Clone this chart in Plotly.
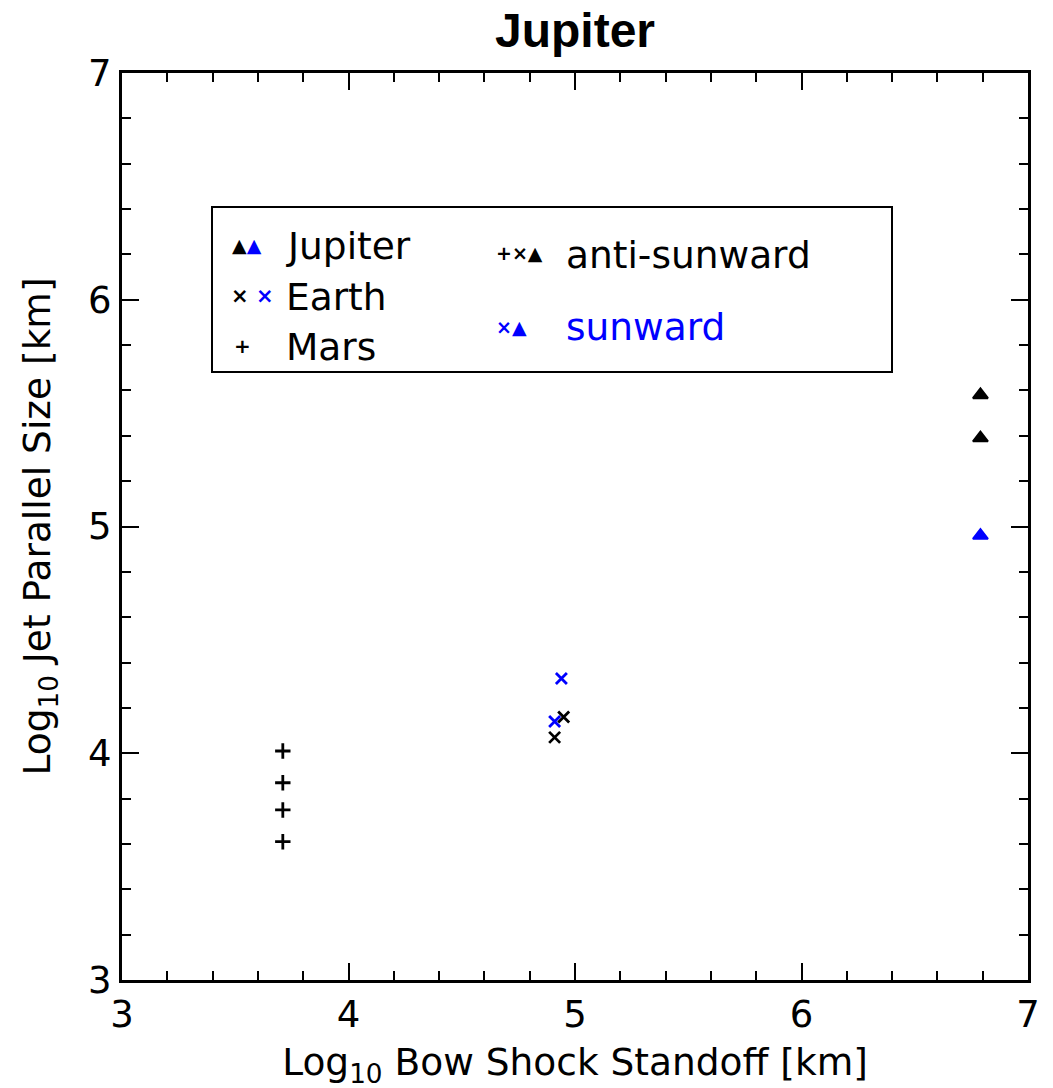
import plotly.graph_objects as go

# ---- data (log10 values) ----
mars_x = [3.71, 3.71, 3.71, 3.71]
mars_y = [4.01, 3.87, 3.75, 3.61]

earth_anti_x = [4.91, 4.95]
earth_anti_y = [4.07, 4.16]
earth_sun_x = [4.94, 4.91]
earth_sun_y = [4.33, 4.14]

jup_anti_x = [6.79, 6.79]
jup_anti_y = [5.58, 5.39]
jup_sun_x = [6.79]
jup_sun_y = [4.96]

x_ticks = [3, 4, 5, 6, 7]
y_ticks = [3, 4, 5, 6, 7]

BLUE = "#0000ff"
BLACK = "#000000"
FONT = "DejaVu Sans"

fig = go.Figure()

fig.add_trace(go.Scatter(x=mars_x, y=mars_y, mode="markers",
                         marker=dict(symbol="cross-thin", size=11,
                                     line=dict(width=2.8, color=BLACK), color=BLACK)))
fig.add_trace(go.Scatter(x=earth_anti_x, y=earth_anti_y, mode="markers",
                         marker=dict(symbol="x-thin", size=11,
                                     line=dict(width=2.8, color=BLACK), color=BLACK)))
fig.add_trace(go.Scatter(x=earth_sun_x, y=earth_sun_y, mode="markers",
                         marker=dict(symbol="x-thin", size=11,
                                     line=dict(width=2.8, color=BLUE), color=BLUE)))
fig.add_trace(go.Scatter(x=jup_anti_x, y=jup_anti_y, mode="markers",
                         marker=dict(symbol="triangle-up", size=13, color=BLACK,
                                     line=dict(width=2, color=BLACK))))
fig.add_trace(go.Scatter(x=jup_sun_x, y=jup_sun_y, mode="markers",
                         marker=dict(symbol="triangle-up", size=13, color=BLUE,
                                     line=dict(width=2, color=BLUE))))

axis_common = dict(
    range=[3, 7], showgrid=False, zeroline=False,
    showline=True, linecolor="black", linewidth=3, mirror="ticks",
    ticks="inside", ticklen=17, tickwidth=2, tickcolor="black",
    minor=dict(dtick=0.2, ticks="inside", ticklen=9, tickwidth=1.5, tickcolor="black"),
    tickfont=dict(family=FONT, size=37, color="black"),
)

fig.update_xaxes(**axis_common, tickvals=x_ticks, ticktext=[str(v) for v in x_ticks],
                 title=dict(text="Log<sub>10</sub> Bow Shock Standoff [km]",
                            font=dict(family=FONT, size=37.5, color="black"), standoff=14))
fig.update_yaxes(**axis_common, tickvals=y_ticks, ticktext=[str(v) for v in y_ticks],
                 title=dict(text="Log<sub>10</sub> Jet Parallel Size [km]",
                            font=dict(family=FONT, size=37.5, color="black"), standoff=26))

# the page adds an 8px body margin; positions below are in page pixels
OFF = 8
W, H = 1053, 1088
L, R, T, B = 122 - OFF, 1028 - OFF, 73 - OFF, 980 - OFF

def px(x):
    return (x - OFF - L) / (R - L)

def py(y):
    return (B - (y - OFF)) / (B - T)

annotations = []

def txt(x, y, text, color=BLACK, size=37.5, xanchor="left"):
    annotations.append(dict(x=px(x), y=py(y), xref="paper", yref="paper",
                            text=text, showarrow=False, xanchor=xanchor, yanchor="middle",
                            font=dict(family=FONT, size=size, color=color)))

# legend texts
txt(284, 246, "Jupiter")
txt(284, 297, "Earth")
txt(284, 347, "Mars")
txt(564, 255, "anti-sunward")
txt(564, 327, "sunward", color=BLUE)

# legend marker glyphs
tri = "\u25B2"
cross = "\u00D7"
txt(230, 245, f"<span style='color:{BLACK}'>{tri}</span><span style='color:{BLUE}'>{tri}</span>", size=19)
txt(229, 296, f"<b><span style='color:{BLACK}'>{cross}</span> <span style='color:{BLUE}'>{cross}</span></b>", size=21)
txt(232, 346, "<b>+</b>", size=20)
txt(494, 253, f"<b>+{cross}</b>{tri}", size=19)
txt(494, 327, f"<span style='color:{BLUE}'><b>{cross}</b>{tri}</span>", size=19)

shapes = [dict(type="rect", xref="paper", yref="paper",
               x0=px(212), x1=px(892), y0=py(372), y1=py(207),
               line=dict(color="black", width=2), fillcolor="rgba(0,0,0,0)")]

fig.update_layout(
    width=W, height=H,
    margin=dict(l=L, r=W - R, t=T, b=H - B),
    paper_bgcolor="white", plot_bgcolor="white",
    showlegend=False,
    title=dict(text="<b>Jupiter</b>", x=(L + R) / 2 / W, xanchor="center",
               y=1 - (30 - OFF) / H, yanchor="middle",
               font=dict(family="Liberation Sans", size=48, color="black")),
    annotations=annotations,
    shapes=shapes,
)

fig.write_html("out.html")
